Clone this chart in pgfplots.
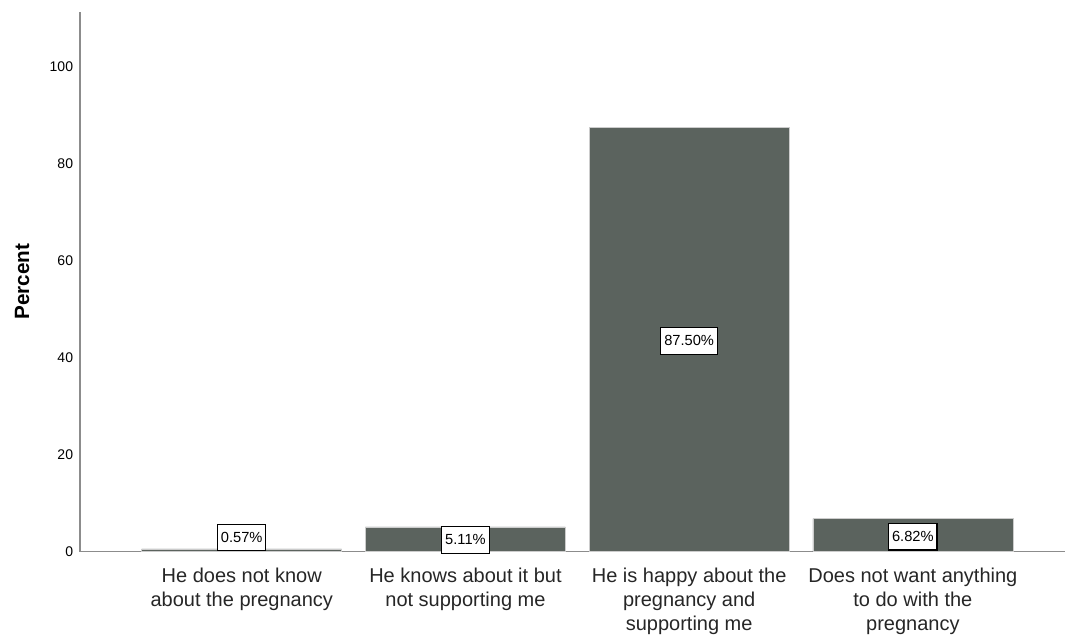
\documentclass[border=0pt]{standalone}
\usepackage{fontspec}
\setmainfont{Liberation Sans}
\usepackage{pgfplots}
\pgfplotsset{compat=1.18}
\definecolor{barc}{HTML}{5B635E}
\begin{document}
\begin{tikzpicture}
\path[use as bounding box] (0,0) rectangle (800.25pt,477.75pt);
\begin{axis}[
 at={(60pt,64pt)}, anchor=south west,
 scale only axis, width=738.75pt, height=404.8pt,
 xmin=-0.723, xmax=3.68, ymin=0, ymax=111.3,
 axis x line*=bottom, axis y line*=left,
 axis line style={-, draw=black!45, line width=1pt},
 xtick={0,1,2,3},
 xticklabels={{He does not know\\about the pregnancy},{He knows about it but\\not supporting me},{He is happy about the\\pregnancy and\\supporting me},{Does not want anything\\to do with the\\pregnancy}},
 ytick={0,20,40,60,80,100},
 major tick length=0pt,
 /pgf/number format/assume math mode=true,
 yticklabel style={font=\fontsize{10.5}{12}\selectfont, anchor=east, inner sep=0pt, xshift=-5pt},
 xticklabel style={font=\fontsize{15}{18}\selectfont, align=center, anchor=north, inner sep=0pt, yshift=-12pt, text=black!85},
 ylabel={Percent},
 ylabel style={font=\fontsize{15.5}{18}\selectfont\bfseries, at={(axis description cs:0,0.5)}, anchor=center, yshift=43.5pt},
 clip=false,
]
\addplot[ybar, bar width=150pt, fill=barc, draw=black!20, line width=0.4pt] coordinates {(0,0.57) (1,5.11) (2,87.5) (3,6.82)};
\addplot[only marks, mark=none, nodes near coords, point meta=explicit symbolic,
 nodes near coords style={anchor=center, draw=black, fill=white, line width=0.8pt, font=\fontsize{11}{13}\selectfont, inner xsep=2.5pt, inner ysep=0pt, minimum height=20pt}]
 coordinates {(0,2.9)[0.57\%] (1,2.45)[5.11\%] (2,43.5)[87.50\%] (3,3.1)[6.82\%]};
\end{axis}
\end{tikzpicture}
\end{document}
